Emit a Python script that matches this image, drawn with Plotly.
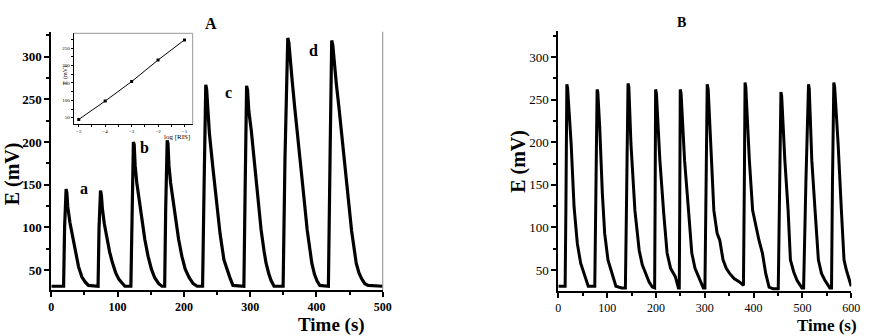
import plotly.graph_objects as go

# ---------------- Data ----------------
# Panel A: potential transients (time s, E mV)
a_time = [0, 18.5, 20, 22.3, 23.5, 24.8, 28, 31.3, 34, 37.2, 41, 46, 51, 56, 70.5,
          72, 74.2, 75.5, 77, 80, 84, 88, 92, 97, 102, 107, 111, 120,
          121.5, 123.8, 125, 126.5, 129, 133, 137, 141, 146, 151, 156, 162, 167, 171,
          172.5, 174.8, 176, 177.5, 180, 184, 188, 192, 197, 202, 208, 214, 220, 228.2,
          230.5, 233, 234.3, 235.6, 238.5, 243.6, 248.5, 254.5, 260.4, 265, 269, 274, 290.5,
          292.5, 294.6, 296, 298, 301.6, 306.5, 311.5, 316.5, 321, 324, 328, 331.4, 336, 349.7,
          352.5, 356.7, 358.3, 360.5, 363.6, 367, 371, 376, 381, 386, 390, 393, 397, 401, 405, 418,
          420.5, 423, 424.6, 427, 430, 434, 438, 443, 448, 453, 457, 460, 464, 468, 473, 478, 500]
a_pot = [31, 31, 100, 145, 140, 124, 106, 93, 80, 66, 54, 42, 36, 32, 31,
         100, 143, 138, 122, 104, 86, 71, 59, 47, 39, 34, 31, 31,
         120, 200, 197, 172, 152, 128, 106, 86, 66, 51, 41, 34, 31, 31,
         120, 202, 198, 172, 152, 128, 106, 86, 66, 51, 41, 34, 31, 31,
         150, 267, 262, 242, 210, 171, 132, 93, 62, 50, 42, 32, 31,
         150, 266, 261, 236, 214, 175, 136, 97, 72, 58, 46, 38, 31, 31,
         180, 322, 317, 292, 270, 242, 214, 175, 136, 97, 73, 58, 45, 37, 32, 31,
         180, 319, 314, 290, 268, 240, 212, 173, 134, 96, 72, 58, 47, 40, 34, 32, 31]

# Panel B: repeatability transients
b_time = [0, 14, 15.5, 17.5, 19, 21.5, 26.3, 32.3, 36, 39, 45.8, 54.5, 61.3, 74.7,
          76.5, 79.5, 81, 84.8, 90.2, 95, 101.7, 111.8, 118, 130, 137.4,
          139.5, 142.8, 144.5, 148.8, 156.9, 165.7, 172, 179, 186, 192.6, 197.3,
          198.3, 199.3, 201, 208, 216, 222.8, 230, 239.8, 246, 247.8,
          248.8, 249.8, 251.5, 258.6, 266.7, 273.4, 280, 286.9, 297, 300.3,
          302.5, 305, 307, 313.8, 318.6, 325.3, 330.7, 337.4, 344, 350.9, 360, 371, 376, 379.2,
          381, 382.5, 384, 391.3, 398, 404.7, 411, 418, 424.8, 431.7, 440, 450.5,
          453, 456, 457.5, 464, 470.7, 475.4, 482, 488.9, 499, 502.4,
          507, 512.5, 514, 519.2, 525.9, 532.7, 539, 546, 556, 559.6,
          561.5, 564.3, 566, 573.1, 579.8, 585.2, 590, 595, 600]
b_pot = [31, 31, 120, 268, 264, 245, 198, 124, 98, 81, 58, 42, 31, 31,
         120, 262, 258, 218, 140, 93, 62, 42, 31, 29, 29,
         120, 269, 265, 198, 120, 73, 56, 46, 36, 30, 29,
         130, 262, 257, 179, 116, 70, 52, 42, 29, 29,
         130, 262, 257, 179, 120, 70, 52, 42, 29, 29,
         150, 268, 262, 179, 120, 93, 85, 62, 52, 46, 40, 36, 33, 32,
         150, 270, 265, 179, 120, 101, 85, 70, 46, 30, 28, 28,
         150, 259, 254, 179, 120, 62, 48, 38, 29, 29,
         150, 268, 263, 179, 120, 62, 46, 38, 29, 29,
         150, 270, 265, 198, 120, 62, 50, 40, 31]

# Inset: calibration
inset_log = [-5, -4, -3, -2, -1]
inset_E = [45, 98, 154, 216, 274]

# Tick labels
a_xticks = [0, 100, 200, 300, 400, 500]
b_xticks = [0, 100, 200, 300, 400, 500, 600]
yticks = [50, 100, 150, 200, 250, 300]
inset_yticks = [50, 100, 150, 200, 250]
inset_xticks = [-5, -4, -3, -2, -1]

# ---------------- Figure ----------------
W, H = 878, 336
SERIF = "Liberation Serif"


def px_x(p):
    return p / W


def px_y(p):
    return 1 - p / H


fig = go.Figure()
fig.add_trace(go.Scatter(x=a_time, y=a_pot, mode="lines", xaxis="x", yaxis="y",
                         line=dict(color="black", width=3.2), showlegend=False))
fig.add_trace(go.Scatter(x=b_time, y=b_pot, mode="lines", xaxis="x2", yaxis="y2",
                         line=dict(color="black", width=3), showlegend=False))
fig.add_trace(go.Scatter(x=inset_log, y=inset_E, mode="lines+markers", xaxis="x3", yaxis="y3",
                         line=dict(color="black", width=1),
                         marker=dict(symbol="square", size=3, color="black"), showlegend=False))

common = dict(showline=True, linecolor="black", linewidth=2, ticks="outside", ticklen=5,
              tickwidth=1.5, tickcolor="black", showgrid=False, zeroline=False)

bold_tick = dict(family=SERIF, size=13, color="black", weight="bold")
bold_xtick = dict(family=SERIF, size=12, color="black", weight="bold")
reg_tick = dict(family=SERIF, size=13, color="black")
reg_xtick = dict(family=SERIF, size=12, color="black")

fig.update_layout(
    width=W, height=H, margin=dict(l=0, r=0, t=0, b=0),
    paper_bgcolor="white", plot_bgcolor="rgba(0,0,0,0)",
    xaxis=dict(domain=[px_x(49), px_x(385)], range=[0, 500], tickvals=a_xticks,
               anchor="y", tickfont=bold_xtick,
               minor=dict(dtick=50, tick0=0, ticks="outside", ticklen=3, tickwidth=1.5, tickcolor="black"),
               **common),
    yaxis=dict(domain=[px_y(290), px_y(31.7)], range=[26.6, 329.3], tickvals=yticks,
               anchor="x", tickfont=bold_tick,
               minor=dict(dtick=25, tick0=0, ticks="outside", ticklen=3, tickwidth=1.5, tickcolor="black"),
               **common),
    xaxis2=dict(domain=[px_x(563), px_x(860)], range=[0, 600], tickvals=b_xticks,
                anchor="y2", tickfont=reg_xtick,
                minor=dict(dtick=50, tick0=0, ticks="outside", ticklen=3, tickwidth=1.5, tickcolor="black"),
                **common),
    yaxis2=dict(domain=[px_y(291), px_y(30.7)], range=[25.4, 330.9], tickvals=yticks,
                anchor="x2", tickfont=reg_tick,
                minor=dict(dtick=25, tick0=0, ticks="outside", ticklen=3, tickwidth=1.5, tickcolor="black"),
                **common),
    xaxis3=dict(domain=[px_x(71.7), px_x(192.3)], range=[-5.19, -0.69], tickvals=inset_xticks,
                anchor="y3", showline=True, linecolor="black", linewidth=1, ticks="outside",
                ticklen=2, tickwidth=1, tickcolor="black", showgrid=False, zeroline=False,
                tickfont=dict(family=SERIF, size=5, color="black"),
                minor=dict(dtick=0.5, ticks="outside", ticklen=1.5, tickwidth=1, tickcolor="black")),
    yaxis3=dict(domain=[px_y(124.3), px_y(33.3)], range=[31, 293], tickvals=inset_yticks,
                anchor="x3", showline=True, linecolor="black", linewidth=1, ticks="outside",
                ticklen=2, tickwidth=1, tickcolor="black", showgrid=False, zeroline=False,
                tickfont=dict(family=SERIF, size=5, color="black"),
                minor=dict(dtick=25, ticks="outside", ticklen=1.5, tickwidth=1, tickcolor="black")),
)

# Frame lines (gray right side of A, gray top/right of inset)
fig.add_shape(type="line", xref="x domain", yref="y domain", x0=1, x1=1, y0=0, y1=1,
              line=dict(color="#888888", width=1))
fig.add_shape(type="line", xref="x3 domain", yref="y3 domain", x0=1, x1=1, y0=0, y1=1,
              line=dict(color="#999999", width=1))
fig.add_shape(type="line", xref="x3 domain", yref="y3 domain", x0=0, x1=1, y0=1, y1=1,
              line=dict(color="#999999", width=1))


def ann(text, x, y, size, bold=True, angle=0):
    fig.add_annotation(text=f"<b>{text}</b>" if bold else text, x=px_x(x), y=px_y(y),
                       xref="paper", yref="paper", showarrow=False, textangle=angle,
                       xanchor="center", yanchor="middle",
                       font=dict(family=SERIF, size=size, color="black"))


ann("A", 210.5, 23.5, 16)
ann("B", 688, 23, 14)
ann("a", 82, 188, 16)
ann("b", 143, 147, 16)
ann("c", 229, 92, 16)
ann("d", 315, 50, 16)
ann("E (mV)", 10, 173.5, 20, angle=-90)
ann("E (mV)", 522, 161, 20, angle=-90)
ann("Time (s)", 333, 324.5, 19)
ann("Time (s)", 835, 325, 17)
ann("E (mV)", 63, 75, 6, bold=False, angle=-90)
ann("log [RIS]", 176, 137, 7, bold=False)

fig.write_html("out.html")
